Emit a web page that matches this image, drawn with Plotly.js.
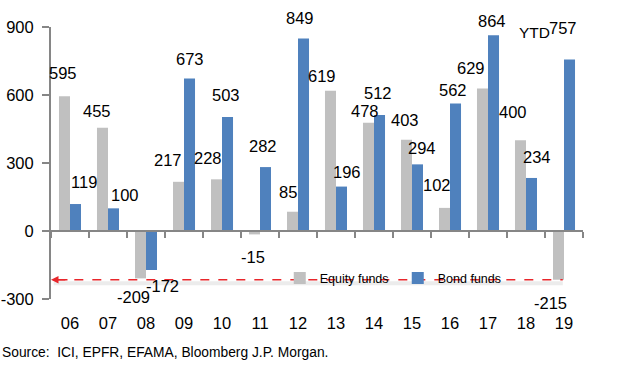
<!DOCTYPE html>
<html>
<head>
<meta charset="utf-8">
<script src="https://cdn.plot.ly/plotly-3.0.1.min.js"></script>
<style>
  html, body { margin: 0; padding: 0; background: #fff; }
  #chart { width: 619px; height: 367px; }
</style>
</head>
<body>
<div id="chart"></div>
<script>
// ---- data ----
const years = ['06','07','08','09','10','11','12','13','14','15','16','17','18','19'];
const equityFunds = [595, 455, -209, 217, 228, -15, 85, 619, 478, 403, 102, 629, 400, -215];
const bondFunds   = [119, 100, -172, 673, 503, 282, 849, 196, 512, 294, 562, 864, 234, 757];
const yTickVals = [-300, 0, 300, 600, 900];
const yTickText = ['-300', '0', '300', '600', '900'];
const ytdLabel = 'YTD';
const sourceText = 'Source:  ICI, EPFR, EFAMA, Bloomberg J.P. Morgan.';

// label nudges in pixels [dx, dy] (dy positive = away from bar end)
const equityLabelNudge = [[-1.5,23],[-5.5,17],[-7.5,19],[-10.5,22],[-8.5,21],[-1.5,23],[-4.5,20],
                          [-8.5,15],[-3.5,12],[-1.5,20],[-7.5,23],[-11.5,20],[-7.5,28],[-8.5,23]];
const bondLabelNudge   = [[8.5,22],[11.5,13],[10.5,16],[0.5,19],[-1.5,22],[-2.5,21],[-3.5,21],
                          [5.5,15],[-1.5,22],[4.5,16],[-2.5,14],[-1.5,14],[5.5,21],[-6.5,31]];

const FONT = '"Liberation Sans Narrow", "Arial Narrow", "Liberation Sans", Arial, sans-serif';
const GRAY = '#c0c0c0';
const BLUE = '#4f81bd';
const AXIS = '#868686';
const BAR_HALF = 5.5; // half bar width in px (grouped offset)
const NUM_SIZE = 16.5;

const traces = [
  { type: 'bar', name: 'Equity funds', x: years, y: equityFunds,
    marker: { color: GRAY }, hoverinfo: 'skip' },
  { type: 'bar', name: 'Bond funds', x: years, y: bondFunds,
    marker: { color: BLUE }, hoverinfo: 'skip' },
  // invisible trace to carry the zero-line axis with tick marks
  { type: 'scatter', x: years, y: years.map(() => 0), xaxis: 'x2', yaxis: 'y',
    mode: 'markers', marker: { opacity: 0 }, showlegend: false, hoverinfo: 'skip' }
];

const annotations = [];
function addLabels(vals, nudge, side) {
  vals.forEach((v, i) => {
    const [dx, dy] = nudge[i];
    annotations.push({
      x: i, y: v, xref: 'x', yref: 'y',
      text: String(v), showarrow: false,
      xanchor: 'center', yanchor: 'middle',
      xshift: side * BAR_HALF + dx,
      yshift: v >= 0 ? dy : -dy,
      font: { family: FONT, size: NUM_SIZE, color: '#000' }
    });
  });
}
addLabels(equityFunds, equityLabelNudge, -1);
addLabels(bondFunds, bondLabelNudge, 1);

annotations.push({
  x: years.length - 1, y: bondFunds[bondFunds.length - 1], xref: 'x', yref: 'y',
  text: ytdLabel, showarrow: false, xanchor: 'center', yanchor: 'middle',
  xshift: BAR_HALF - 35.5, yshift: 27,
  font: { family: FONT, size: 15.5, color: '#000' }
});

// arrow head of the red dashed line
annotations.push({
  x: 0, y: equityFunds[equityFunds.length - 1], xref: 'x domain', yref: 'y',
  ax: 18, ay: 0, axref: 'pixel', ayref: 'pixel',
  showarrow: true, arrowhead: 2, arrowsize: 1, arrowwidth: 1.5, arrowcolor: '#e8262b',
  text: ''
});

annotations.push({
  x: -51 / 532, y: -0.195, xref: 'paper', yref: 'paper',
  text: sourceText, showarrow: false, xanchor: 'left', yanchor: 'middle',
  font: { family: FONT, size: 13.8, color: '#000' }
});

const refLevel = equityFunds[equityFunds.length - 1];
const shapes = [
  { type: 'line', xref: 'x domain', yref: 'y', x0: 0.005, x1: 0.962, y0: refLevel - 15, y1: refLevel - 15,
    line: { color: 'rgba(200,200,200,0.35)', width: 4 }, layer: 'below' },
  { type: 'line', xref: 'x domain', yref: 'y', x0: 0.01, x1: 0.962, y0: refLevel, y1: refLevel,
    line: { color: '#e8262b', width: 1.5, dash: 'dash' } }
];

const layout = {
  width: 619, height: 367,
  margin: { l: 51, r: 36, t: 27, b: 68, pad: 0 },
  paper_bgcolor: '#fff', plot_bgcolor: '#fff',
  font: { family: FONT, size: NUM_SIZE, color: '#000' },
  barmode: 'group', bargap: 0.42, bargroupgap: 0,
  showlegend: true,
  legend: {
    orientation: 'h', x: 0.43, xanchor: 'left', y: (refLevel + 300) / 1200 + 0.005, yanchor: 'middle',
    font: { family: FONT, size: 12.5, color: '#000' },
    bgcolor: 'rgba(0,0,0,0)', itemwidth: 30, tracegroupgap: 0,
    entrywidth: 73, entrywidthmode: 'pixels', itemclick: false
  },
  xaxis: {
    type: 'category', range: [-0.5, 13.5], showgrid: false, zeroline: false,
    showline: false, ticks: '', tickfont: { family: FONT, size: NUM_SIZE },
    ticklabelstandoff: 12, fixedrange: true
  },
  xaxis2: {
    type: 'category', range: [-0.5, 13.5], overlaying: 'x', anchor: 'free', position: 0.25,
    showgrid: false, zeroline: false, showline: true, linecolor: AXIS, linewidth: 2,
    ticks: 'outside', tickson: 'boundaries', ticklen: 6, tickwidth: 2, tickcolor: AXIS,
    showticklabels: false, fixedrange: true
  },
  yaxis: {
    range: [-300, 900], tickvals: yTickVals, ticktext: yTickText,
    showgrid: false, zeroline: false, showline: true, linecolor: AXIS, linewidth: 2,
    ticks: 'outside', ticklen: 7, tickwidth: 2, tickcolor: AXIS,
    tickfont: { family: FONT, size: NUM_SIZE }, ticklabelstandoff: 5, fixedrange: true
  },
  annotations: annotations,
  shapes: shapes
};

Plotly.newPlot('chart', traces, layout, { staticPlot: true, displayModeBar: false });
</script>
</body>
</html>
